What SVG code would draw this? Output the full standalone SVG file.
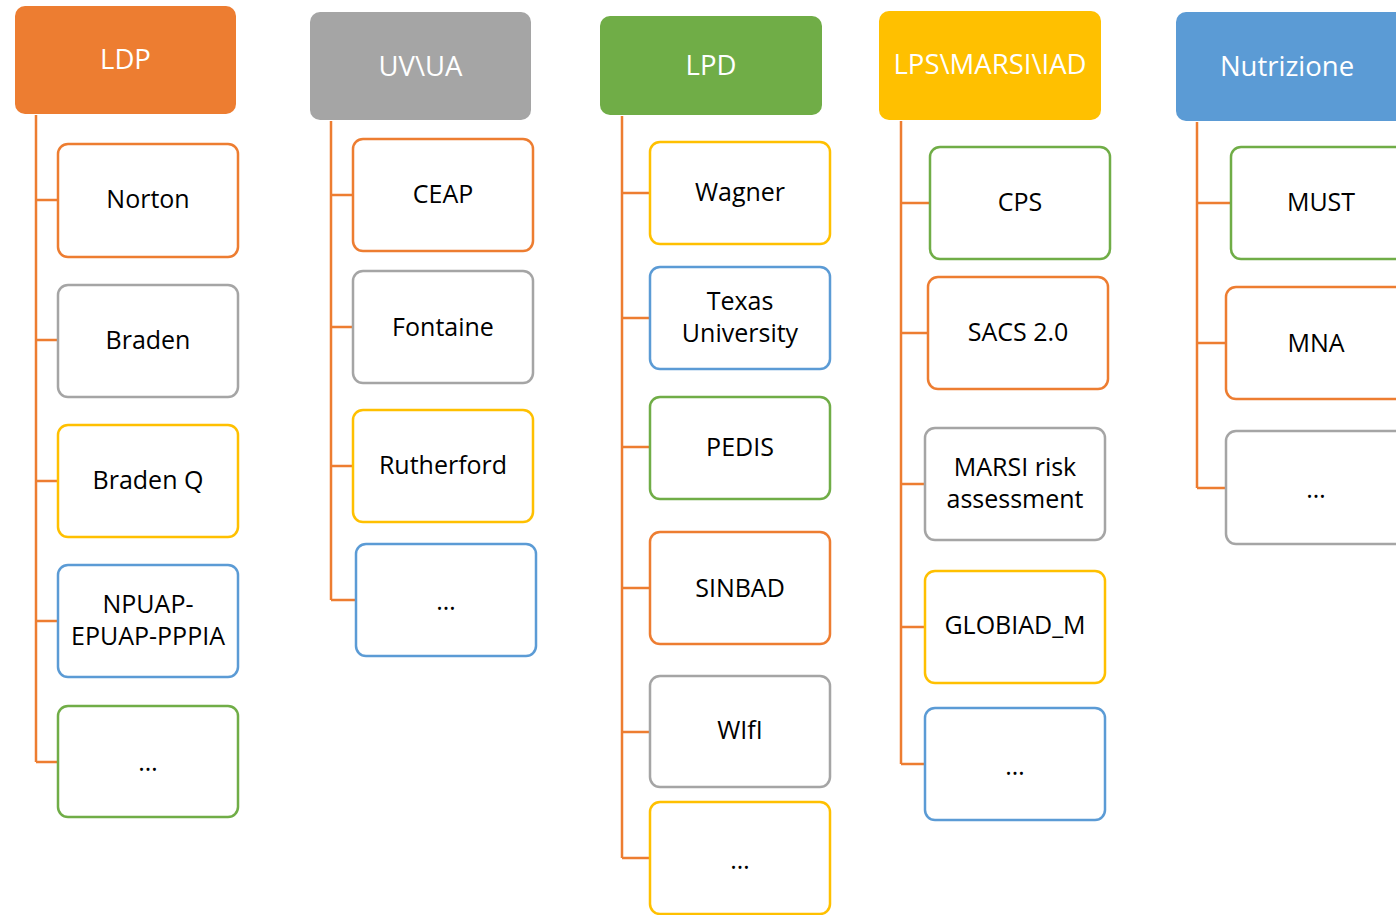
<svg xmlns="http://www.w3.org/2000/svg" width="1396" height="915" viewBox="0 0 1396 915">
<style>
.hdr{stroke:none}
.hdr-t{font-family:"Open Sans","Liberation Sans",sans-serif;font-size:27.5px;fill:#fff;text-anchor:middle}
.box{fill:#fff;stroke-width:2.5}
.t{font-family:"Open Sans","Liberation Sans",sans-serif;font-size:25px;fill:#000;text-anchor:middle}
.o{stroke:#ED7D31}.g{stroke:#A5A5A5}.y{stroke:#FFC000}.b{stroke:#5B9BD5}.gr{stroke:#70AD47}
.con{fill:none;stroke:#ED7D31;stroke-width:2.5}
</style>
<rect width="1396" height="915" fill="#fff"/>
<g id="connectors">
<path class="con" d="M36,115V762M36,200H58M36,340H58M36,481H58M36,621H58M36,762H58"/>
<path class="con" d="M331,121V600M331,195H353M331,327H353M331,466H353M331,600H356"/>
<path class="con" d="M622,116V858M622,193H650M622,318H650M622,447H650M622,588H650M622,732H650M622,858H650"/>
<path class="con" d="M901,121V764M901,203H930M901,333H928M901,484H925M901,627H925M901,764H925"/>
<path class="con" d="M1197,122V488M1197,203H1231M1197,343H1226M1197,488H1226"/>
</g>
<g id="LDP"><rect class="hdr" x="15" y="6" width="221" height="108" rx="10" fill="#ED7D31"/><text class="hdr-t" x="125.5" y="69">LDP</text></g>
<g id="Norton"><rect class="box o" x="58" y="144" width="180" height="113" rx="10"/><text class="t" x="148" y="208">Norton</text></g>
<g id="Braden"><rect class="box g" x="58" y="285" width="180" height="112" rx="10"/><text class="t" x="148" y="349">Braden</text></g>
<g id="BradenQ"><rect class="box y" x="58" y="425" width="180" height="112" rx="10"/><text class="t" x="148" y="489">Braden Q</text></g>
<g id="NPUAP"><rect class="box b" x="58" y="565" width="180" height="112" rx="10"/><text class="t" x="148" y="613">NPUAP-</text><text class="t" x="148" y="645">EPUAP-PPPIA</text></g>
<g id="LDP-more"><rect class="box gr" x="58" y="706" width="180" height="111" rx="10"/><text class="t" x="148" y="771">…</text></g>

<g id="UVUA"><rect class="hdr" x="310" y="12" width="221" height="108" rx="10" fill="#A5A5A5"/><text class="hdr-t" x="420.5" y="76">UV\UA</text></g>
<g id="CEAP"><rect class="box o" x="353" y="139" width="180" height="112" rx="10"/><text class="t" x="443" y="203">CEAP</text></g>
<g id="Fontaine"><rect class="box g" x="353" y="271" width="180" height="112" rx="10"/><text class="t" x="443" y="336">Fontaine</text></g>
<g id="Rutherford"><rect class="box y" x="353" y="410" width="180" height="112" rx="10"/><text class="t" x="443" y="474">Rutherford</text></g>
<g id="UVUA-more"><rect class="box b" x="356" y="544" width="180" height="112" rx="10"/><text class="t" x="446" y="610">…</text></g>

<g id="LPD"><rect class="hdr" x="600" y="16" width="222" height="99" rx="10" fill="#70AD47"/><text class="hdr-t" x="711" y="75">LPD</text></g>
<g id="Wagner"><rect class="box y" x="650" y="142" width="180" height="102" rx="10"/><text class="t" x="740" y="201">Wagner</text></g>
<g id="Texas"><rect class="box b" x="650" y="267" width="180" height="102" rx="10"/><text class="t" x="740" y="310">Texas</text><text class="t" x="740" y="342">University</text></g>
<g id="PEDIS"><rect class="box gr" x="650" y="397" width="180" height="102" rx="10"/><text class="t" x="740" y="456">PEDIS</text></g>
<g id="SINBAD"><rect class="box o" x="650" y="532" width="180" height="112" rx="10"/><text class="t" x="740" y="597">SINBAD</text></g>
<g id="WIfI"><rect class="box g" x="650" y="676" width="180" height="111" rx="10"/><text class="t" x="740" y="739">WIfI</text></g>
<g id="LPD-more"><rect class="box y" x="650" y="802" width="180" height="112" rx="10"/><text class="t" x="740" y="869">…</text></g>

<g id="LPS"><rect class="hdr" x="879" y="11" width="222" height="109" rx="10" fill="#FFC000"/><text class="hdr-t" x="990" y="74">LPS\MARSI\IAD</text></g>
<g id="CPS"><rect class="box gr" x="930" y="147" width="180" height="112" rx="10"/><text class="t" x="1020" y="211">CPS</text></g>
<g id="SACS"><rect class="box o" x="928" y="277" width="180" height="112" rx="10"/><text class="t" x="1018" y="341">SACS 2.0</text></g>
<g id="MARSI"><rect class="box g" x="925" y="428" width="180" height="112" rx="10"/><text class="t" x="1015" y="476">MARSI risk</text><text class="t" x="1015" y="508">assessment</text></g>
<g id="GLOBIAD"><rect class="box y" x="925" y="571" width="180" height="112" rx="10"/><text class="t" x="1015" y="634">GLOBIAD_M</text></g>
<g id="LPS-more"><rect class="box b" x="925" y="708" width="180" height="112" rx="10"/><text class="t" x="1015" y="775">…</text></g>

<g id="Nutrizione"><rect class="hdr" x="1176" y="12" width="240" height="109" rx="10" fill="#5B9BD5"/><text class="hdr-t" x="1287" y="76">Nutrizione</text></g>
<g id="MUST"><rect class="box gr" x="1231" y="147" width="190" height="112" rx="10"/><text class="t" x="1321" y="211">MUST</text></g>
<g id="MNA"><rect class="box o" x="1226" y="287" width="190" height="112" rx="10"/><text class="t" x="1316" y="352">MNA</text></g>
<g id="Nutr-more"><rect class="box g" x="1226" y="431" width="190" height="113" rx="10"/><text class="t" x="1316" y="498">…</text></g>
</svg>
